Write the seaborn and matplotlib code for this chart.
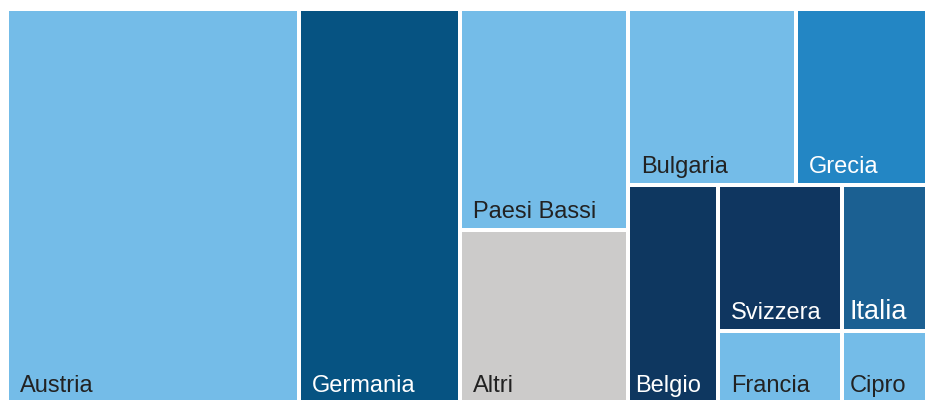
import matplotlib.pyplot as plt
from matplotlib.patches import Rectangle
import seaborn as sns

# Quote percentuali per paese
paesi = ["Austria", "Germania", "Paesi Bassi", "Altri", "Bulgaria", "Grecia",
         "Belgio", "Svizzera", "Italia", "Francia", "Cipro"]
quote = [31.6, 17.5, 10.2, 8.0, 8.1, 6.3, 5.4, 5.0, 3.4, 2.5, 1.7]
colori = ["#74bce8", "#065382", "#74bce8", "#cccbca", "#74bce8", "#2386c4",
          "#0e3760", "#0f3660", "#1b6092", "#74bce8", "#74bce8"]
colori_testo = ["#222222", "white", "#222222", "#222222", "#222222", "white",
                "white", "white", "white", "#222222", "#222222"]

# struttura del treemap: "h" = affiancati, "v" = impilati
schema = ("h", [0, 1, ("v", [2, 3]),
                ("v", [("h", [4, 5]),
                       ("h", [6, ("v", [("h", [7, 8]), ("h", [9, 10])])])])])


def totale(nodo):
    if isinstance(nodo, int):
        return quote[nodo]
    return sum(totale(f) for f in nodo[1])


def disponi(nodo, x, y, w, h, out):
    if isinstance(nodo, int):
        out.append((nodo, x, y, w, h))
        return
    verso, figli = nodo
    tot = totale(nodo)
    for f in figli:
        q = totale(f) / tot
        if verso == "h":
            disponi(f, x, y, w * q, h, out)
            x += w * q
        else:
            disponi(f, x, y, w, h * q, out)
            y += h * q


sns.set_theme(style="white")
plt.rcParams["font.family"] = ["Liberation Sans", "DejaVu Sans"]

fig = plt.figure(figsize=(9.25, 4.0), dpi=100)
ax = fig.add_axes([0, 0, 1, 1])
ax.set_xlim(0, 925)
ax.set_ylim(400, 0)
ax.axis("off")

gap = 2
celle = []
disponi(schema, 7, 9, 920, 395, celle)

for i, x, y, w, h in celle:
    ax.add_patch(Rectangle((x + gap, y + gap), w - 2 * gap, h - 2 * gap,
                           facecolor=colori[i], edgecolor="none"))
    size = 19.5 if paesi[i] == "Italia" else 17
    # meno margine nelle celle strette
    pad = 11 if w > 100 else 5
    ax.text(x + gap + pad, y + h - gap - 10, paesi[i], color=colori_testo[i],
            fontsize=size, ha="left", va="baseline")

fig.savefig("out.png", dpi=100)
